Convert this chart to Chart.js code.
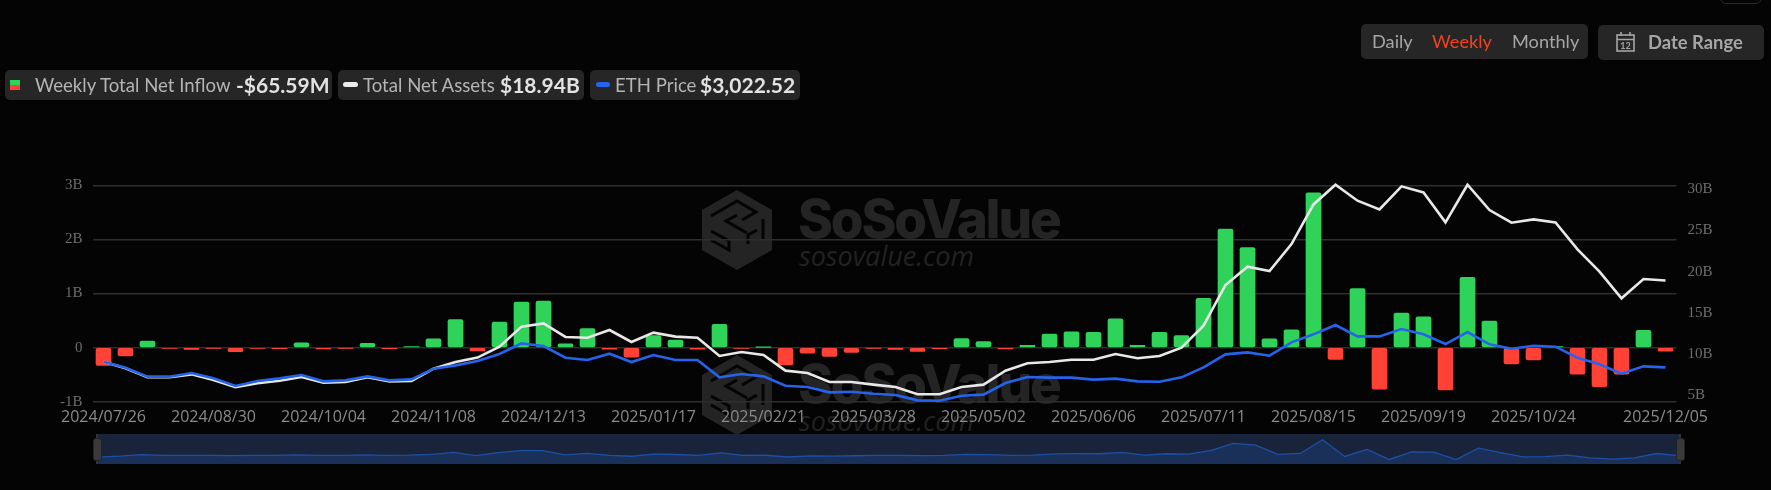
<!DOCTYPE html>
<html>
<head>
<meta charset="utf-8">
<title>Weekly Total Net Inflow</title>
<script src="https://cdn.jsdelivr.net/npm/chart.js@4"></script>
<style>
html,body{margin:0;padding:0;background:#040404;width:1771px;height:490px;overflow:hidden;font-family:Lato,sans-serif;}
.abs{position:absolute;white-space:nowrap;}
.chip{position:absolute;top:70px;height:30px;background:#262626;border-radius:5px;}
.label{color:#b4b4b4;font-size:18.6px;line-height:30px;top:70px;}
.val{color:#e2e2e2;font-size:21px;font-weight:700;line-height:30px;top:70px;}
.btn{color:#a6a6a6;font-size:18.2px;line-height:35px;top:24px;}
.mark1{color:#242424;font-family:Inter,sans-serif;font-weight:800;font-size:53px;letter-spacing:-2.2px;line-height:60px;}
.mark2{color:#222;font-family:"Open Sans",sans-serif;font-style:italic;font-size:27px;line-height:34px;}
.handle{position:absolute;top:438px;width:7px;height:21px;background:#3a3a3a;border-radius:3px;border:0.5px solid #222;}
.stem{position:absolute;top:434px;width:2px;height:30px;background:#333;}
canvas{position:absolute;left:0;top:0;}
</style>
</head>
<body>

<!-- watermarks sit under the chart canvas -->
<svg class="abs" style="left:702px;top:190px" width="70" height="80" viewBox="0 0 70 80">
  <path d="M35 0L70 20V60L35 80L0 60V20Z" fill="#242424"/>
  <path d="M9 26L35 11L54 22L40 30M35 25L24 31L45 43M61 29V50M55 40L46 45V54M9 41L27 51V60L9 50" fill="none" stroke="#040404" stroke-width="3"/>
</svg>
<div class="abs mark1" style="left:798px;top:189px">SoSoValue</div>
<div class="abs mark2" style="left:799px;top:239px">sosovalue.com</div>
<svg class="abs" style="left:702px;top:355px" width="70" height="80" viewBox="0 0 70 80">
  <path d="M35 0L70 20V60L35 80L0 60V20Z" fill="#242424"/>
  <path d="M9 26L35 11L54 22L40 30M35 25L24 31L45 43M61 29V50M55 40L46 45V54M9 41L27 51V60L9 50" fill="none" stroke="#040404" stroke-width="3"/>
</svg>
<div class="abs mark1" style="left:798px;top:354px">SoSoValue</div>
<div class="abs mark2" style="left:799px;top:404px">sosovalue.com</div>

<canvas id="mainChart" width="1771" height="490" style="width:1771px;height:490px"></canvas>

<!-- legend chips -->
<div class="chip" style="left:5px;width:327px"></div>
<div class="abs" style="left:10px;top:80px;width:10px;height:5px;background:#2fd35a"></div>
<div class="abs" style="left:10px;top:85px;width:10px;height:5px;background:#ff4136"></div>
<div class="abs label" style="left:35px">Weekly Total Net Inflow</div>
<div class="abs val" style="left:236px">-$65.59M</div>
<div class="chip" style="left:338px;width:246px"></div>
<div class="abs" style="left:343px;top:82px;width:15px;height:5px;background:#ececec;border-radius:3px"></div>
<div class="abs label" style="left:363px">Total Net Assets</div>
<div class="abs val" style="left:500px">$18.94B</div>
<div class="chip" style="left:590px;width:210px"></div>
<div class="abs" style="left:596px;top:82px;width:14px;height:5px;background:#2563eb;border-radius:3px"></div>
<div class="abs label" style="left:615px">ETH Price</div>
<div class="abs val" style="left:700px">$3,022.52</div>

<!-- period switch and date range -->
<div class="abs" style="left:1720px;top:-10px;width:40px;height:12px;border:1px solid #2a2a2a;border-radius:6px"></div>
<div class="abs" style="left:1361px;top:24px;width:227px;height:35px;background:#262626;border-radius:5px"></div>
<div class="abs btn" style="left:1372px">Daily</div>
<div class="abs btn" style="left:1432px;color:#f0431f">Weekly</div>
<div class="abs btn" style="left:1512px">Monthly</div>
<div class="abs" style="left:1598px;top:25px;width:166px;height:35px;background:#262626;border-radius:5px"></div>
<svg class="abs" style="left:1616px;top:31px" width="20" height="22" viewBox="0 0 20 22">
  <rect x="1" y="4" width="17" height="16" fill="none" stroke="#a6a6a6" stroke-width="1.6"/>
  <path d="M1 8.5H18M5 1V5M14 1V5" stroke="#a6a6a6" stroke-width="1.6"/>
  <text x="9.5" y="18" text-anchor="middle" font-family="Lato" font-size="9" font-weight="700" fill="#a6a6a6">12</text>
</svg>
<div class="abs btn" style="left:1648px;top:25px;font-weight:700;font-size:18.4px">Date Range</div>

<!-- range slider -->
<div class="abs" style="left:97px;top:434px;width:1582px;height:30px;background:#19243a"></div>
<canvas id="navChart" width="1582" height="30" style="left:97px;top:434px;width:1582px;height:30px"></canvas>
<div class="stem" style="left:96px"></div>
<div class="handle" style="left:93px"></div>
<div class="stem" style="left:1679px"></div>
<div class="handle" style="left:1676px"></div>

<script>
var weeks=["2024/07/26","2024/08/02","2024/08/09","2024/08/16","2024/08/23","2024/08/30","2024/09/06","2024/09/13","2024/09/20","2024/09/27",
"2024/10/04","2024/10/11","2024/10/18","2024/10/25","2024/11/01","2024/11/08","2024/11/15","2024/11/22","2024/11/29","2024/12/06",
"2024/12/13","2024/12/20","2024/12/27","2025/01/03","2025/01/10","2025/01/17","2025/01/24","2025/01/31","2025/02/07","2025/02/14",
"2025/02/21","2025/02/28","2025/03/07","2025/03/14","2025/03/21","2025/03/28","2025/04/04","2025/04/11","2025/04/18","2025/04/25",
"2025/05/02","2025/05/09","2025/05/16","2025/05/23","2025/05/30","2025/06/06","2025/06/13","2025/06/20","2025/06/27","2025/07/04",
"2025/07/11","2025/07/18","2025/07/25","2025/08/01","2025/08/08","2025/08/15","2025/08/22","2025/08/29","2025/09/05","2025/09/12",
"2025/09/19","2025/09/26","2025/10/03","2025/10/10","2025/10/17","2025/10/24","2025/10/31","2025/11/07","2025/11/14","2025/11/21",
"2025/11/28","2025/12/05"];

// dates that get a label on the x axis
var shownDates=["2024/07/26","2024/08/30","2024/10/04","2024/11/08","2024/12/13","2025/01/17","2025/02/21","2025/03/28","2025/05/02","2025/06/06","2025/07/11","2025/08/15","2025/09/19","2025/10/24","2025/12/05"];
var assetTicks=[5,10,15,20,25,30];

var netInflow=[-0.33,-0.155,0.12,-0.012,-0.035,-0.01,-0.075,-0.012,-0.02,0.09,
-0.025,-0.008,0.08,-0.02,0.02,0.16,0.52,-0.06,0.47,0.84,
0.86,0.07,0.35,-0.03,-0.175,0.22,0.14,-0.03,0.43,-0.015,
0.005,-0.32,-0.105,-0.165,-0.09,-0.008,-0.035,-0.07,-0.02,0.165,
0.11,-0.025,0.04,0.25,0.29,0.28,0.53,0.04,0.28,0.22,
0.91,2.19,1.85,0.16,0.33,2.86,-0.22,1.09,-0.77,0.64,
0.57,-0.78,1.30,0.49,-0.30,-0.23,0.02,-0.49,-0.72,-0.49,
0.32,-0.066];

var netAssets=[9.08,8.27,7.18,7.18,7.54,6.86,5.97,6.45,6.77,7.22,
6.53,6.61,7.18,6.69,6.73,8.23,9.04,9.57,10.90,13.33,
13.73,12.08,11.99,12.92,11.47,12.60,12.12,11.99,9.77,10.25,
9.89,7.99,7.71,6.61,6.61,6.29,6.01,5.12,5.12,6.01,
6.29,7.99,8.88,9.04,9.32,9.32,10.01,9.49,9.77,10.78,
13.45,18.39,20.61,20.08,23.36,28.17,30.56,28.62,27.57,30.36,
29.63,25.99,30.56,27.49,25.95,26.35,25.99,22.71,20.00,16.77,
19.11,18.94];

var ethPrice=[3265,3007,2619,2619,2777,2547,2216,2432,2547,2691,
2418,2461,2633,2461,2504,2964,3107,3294,3596,4056,
3941,3438,3337,3610,3251,3553,3337,3337,2590,2734,
2633,2231,2174,1943,1972,1886,1829,1599,1584,1800,
1843,2346,2604,2576,2576,2490,2533,2418,2403,2590,
3021,3581,3668,3524,4099,4444,4846,4357,4357,4673,
4444,4027,4544,4012,3826,3955,3912,3438,3151,2748,
3064,3022];

var green='#2fd35a',red='#ff4136';

new Chart(document.getElementById('mainChart'),{
    type:'bar',
    data:{
        labels:weeks,
        datasets:[{
            type:'line',label:'ETH Price',data:ethPrice,yAxisID:'yEth',order:0,
            borderColor:'#2563eb',borderWidth:2.6,pointRadius:0,tension:0,clip:false
        },{
            type:'line',label:'Total Net Assets',data:netAssets,yAxisID:'yAssets',order:1,
            borderColor:'#e8e8e8',borderWidth:2.6,pointRadius:0,tension:0,clip:false
        },{
            label:'Weekly Total Net Inflow',data:netInflow,yAxisID:'yFlow',order:2,
            backgroundColor:netInflow.map(function(v){return v<0?red:green;}),
            barThickness:15,borderRadius:2,borderSkipped:false
        }]
    },
    options:{
        responsive:false,animation:false,
        layout:{padding:{top:185.3}},
        plugins:{legend:{display:false},tooltip:{enabled:false}},
        scales:{
            x:{
                offset:true,
                grid:{display:false,drawTicks:false},border:{display:false},
                afterFit:function(s){s.height=88.3;},
                ticks:{
                    autoSkip:false,maxRotation:0,minRotation:0,padding:6,color:'#8a8a8a',
                    font:{family:'"Open Sans"',size:16},
                    callback:function(v){var d=weeks[v];return shownDates.indexOf(d)>=0?d:'';}
                }
            },
            yFlow:{
                position:'left',min:-1,max:3,
                border:{display:false},
                grid:{color:'#2e2e2e',lineWidth:1.5,drawTicks:false},
                afterFit:function(s){s.width=92.5;},
                ticks:{
                    stepSize:1,padding:10,color:'#6e6e6e',
                    font:{family:'"Liberation Serif"',size:15},
                    callback:function(v){return v===0?'0':v+'B';}
                }
            },
            yAssets:{
                position:'right',min:4.22,max:30.49,
                border:{display:false},grid:{display:false,drawTicks:false},
                afterFit:function(s){s.width=94.5;},
                afterBuildTicks:function(s){s.ticks=assetTicks.map(function(v){return {value:v};});},
                ticks:{
                    padding:11,color:'#6e6e6e',
                    font:{family:'"Liberation Serif"',size:15},
                    callback:function(v){return v+'B';}
                }
            },
            yEth:{display:false,min:1540,max:10870}
        }
    }
});

new Chart(document.getElementById('navChart'),{
    type:'line',
    data:{
        labels:weeks,
        datasets:[{
            data:netInflow,borderColor:'#1e4fa6',borderWidth:1.3,backgroundColor:'#1b3059',
            pointRadius:0,tension:0,fill:'start'
        }]
    },
    options:{
        responsive:false,animation:false,
        plugins:{legend:{display:false},tooltip:{enabled:false}},
        scales:{x:{display:false,offset:false},y:{display:false,min:-1.6,max:3.9}}
    }
});
</script>
</body>
</html>
